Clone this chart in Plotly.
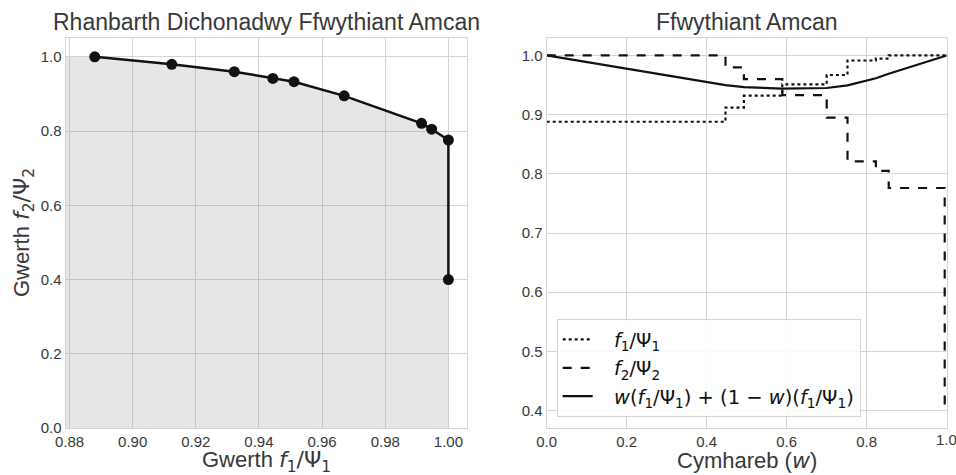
import plotly.graph_objects as go

# Left panel: Pareto points
f1_pts = [0.888, 0.9124, 0.9322, 0.9444, 0.9511, 0.967, 0.9915, 0.9947, 1.0, 1.0]
f2_pts = [1.0, 0.980, 0.960, 0.942, 0.933, 0.895, 0.821, 0.805, 0.776, 0.400]

# Right panel: step series vs weight w
w_steps = [0.0, 0.447, 0.493, 0.589, 0.700, 0.752, 0.823, 0.855, 0.995, 1.0]
f1_steps = [0.888, 0.912, 0.932, 0.951, 0.967, 0.9915, 0.9947, 1.0, 1.0, 1.0]
f2_steps = [1.0, 0.980, 0.960, 0.933, 0.895, 0.821, 0.805, 0.776, 0.400, 0.400]

# Weighted-sum curve (read at breakpoints)
w_sum = [0.0, 0.447, 0.493, 0.589, 0.700, 0.752, 0.823, 0.855, 1.0]
sum_vals = [1.0, 0.950, 0.9465, 0.944, 0.945, 0.9495, 0.9615, 0.969, 1.0]

left_xticks = [0.88, 0.90, 0.92, 0.94, 0.96, 0.98, 1.00]
left_yticks = [0.0, 0.2, 0.4, 0.6, 0.8, 1.0]
right_xticks = [0.0, 0.2, 0.4, 0.6, 0.8, 1.0]
right_yticks = [0.4, 0.5, 0.6, 0.7, 0.8, 0.9, 1.0]

x_left_range = [0.8788, 1.0058]
y_left_range = [0.0, 1.05]
x_right_range = [0.0, 1.0]
y_right_range = [0.371, 1.030]

INK = "#111111"
TXT = "#383838"
GRID = "#d4d4d4"
FONT = "Liberation Sans, Arial, sans-serif"

W, H = 956, 475


def px(x):
    return x / W


def py(y):
    return 1 - y / H


def m(s):
    return "<span style='font-family:DejaVu Sans'>" + s + "</span>"


F1 = m("<i>f</i><sub>1</sub>/Ψ<sub>1</sub>")
F2 = m("<i>f</i><sub>2</sub>/Ψ<sub>2</sub>")
PAD = "\u00a0\u00a0\u00a0"

fig = go.Figure()

fx = [x_left_range[0]] + f1_pts + [1.0, x_left_range[0]]
fy = [f2_pts[0]] + f2_pts + [0.0, 0.0]
fig.add_trace(go.Scatter(x=fx, y=fy, fill="toself", mode="none",
                         fillcolor="rgba(120,120,120,0.19)", showlegend=False,
                         xaxis="x", yaxis="y", hoverinfo="skip"))
fig.add_trace(go.Scatter(x=f1_pts, y=f2_pts, mode="lines+markers",
                         line=dict(color=INK, width=2.5),
                         marker=dict(color=INK, size=11),
                         showlegend=False, xaxis="x", yaxis="y"))

fig.add_trace(go.Scatter(x=w_steps, y=f1_steps, mode="lines", line_shape="hv",
                         line=dict(color=INK, width=2.2, dash="dot"),
                         name=PAD + F1, legendgroup="a", xaxis="x2", yaxis="y2"))
fig.add_trace(go.Scatter(x=w_steps, y=f2_steps, mode="lines", line_shape="hv",
                         line=dict(color=INK, width=2.2, dash="dash"),
                         name=PAD + F2, legendgroup="b", xaxis="x2", yaxis="y2"))
fig.add_trace(go.Scatter(x=w_sum, y=sum_vals, mode="lines",
                         line=dict(color=INK, width=2.2),
                         name=PAD + m("<i>w</i>(<i>f</i><sub>1</sub>/Ψ<sub>1</sub>) + (1 − <i>w</i>)(<i>f</i><sub>1</sub>/Ψ<sub>1</sub>)"),
                         legendgroup="c", xaxis="x2", yaxis="y2"))

axis_common = dict(showgrid=True, gridcolor=GRID, gridwidth=1, zeroline=False,
                   showline=True, linecolor=GRID, linewidth=1.3, mirror=True,
                   automargin=False,
                   ticks="", tickfont=dict(size=15, color=TXT, family=FONT))


def fmt(v, d):
    return f"{v:.{d}f}"


fig.update_layout(
    width=W, height=H, autosize=False,
    margin=dict(l=0, r=0, t=0, b=0, pad=0),
    paper_bgcolor="white", plot_bgcolor="white",
    font=dict(family=FONT, color=TXT),
    xaxis=dict(domain=[px(65.7), px(466.7)], range=x_left_range, tickvals=left_xticks,
               ticktext=[fmt(v, 2) for v in left_xticks], anchor="y", **axis_common),
    yaxis=dict(domain=[py(428), py(38.3)], range=y_left_range, tickvals=left_yticks,
               ticktext=[fmt(v, 1) for v in left_yticks], anchor="x", **axis_common),
    xaxis2=dict(domain=[px(546.7), px(946.7)], range=x_right_range, tickvals=right_xticks[:-1],
                ticktext=[fmt(v, 1) for v in right_xticks[:-1]], anchor="y2", **axis_common),
    yaxis2=dict(domain=[py(427.7), py(37.7)], range=y_right_range, tickvals=right_yticks,
                ticktext=[fmt(v, 1) for v in right_yticks], anchor="x2", **axis_common),
    legend=dict(x=px(556.7), y=py(417.3), xanchor="left", yanchor="bottom",
                bgcolor="rgba(255,255,255,0.85)", bordercolor=GRID, borderwidth=1,
                font=dict(size=19.5, color=INK, family=FONT), tracegroupgap=0,
                itemwidth=30),
    showlegend=True,
)
# last tick label of the right x axis (partly cut at the page edge, as in the original)
fig.add_annotation(text=fmt(right_xticks[-1], 1), x=right_xticks[-1], y=py(439.5), xref="x2", yref="paper",
                   xanchor="center", yanchor="middle", showarrow=False,
                   font=dict(size=15, color=TXT, family=FONT))

ann = [
    dict(text="Rhanbarth Dichonadwy Ffwythiant Amcan", x=266, y=22, size=23),
    dict(text="Ffwythiant Amcan", x=746.7, y=22, size=23),
    dict(text="Gwerth " + F1, x=266, y=461, size=22),
    dict(text="Cymhareb (" + m("<i>w</i>") + ")", x=746.7, y=460, size=22),
]
for a in ann:
    fig.add_annotation(text=a["text"], x=px(a["x"]), y=py(a["y"]), xref="paper", yref="paper",
                       xanchor="center", yanchor="middle", showarrow=False,
                       font=dict(size=a["size"], color=TXT, family=FONT))
fig.add_annotation(text="Gwerth " + F2, x=px(23), y=py(233),
                   xref="paper", yref="paper", xanchor="center", yanchor="middle",
                   showarrow=False, textangle=-90, font=dict(size=22, color=TXT, family=FONT))

fig.write_html("out.html", config={"displayModeBar": False},
               post_script="document.body.style.margin='0';document.body.style.overflow='hidden';")
